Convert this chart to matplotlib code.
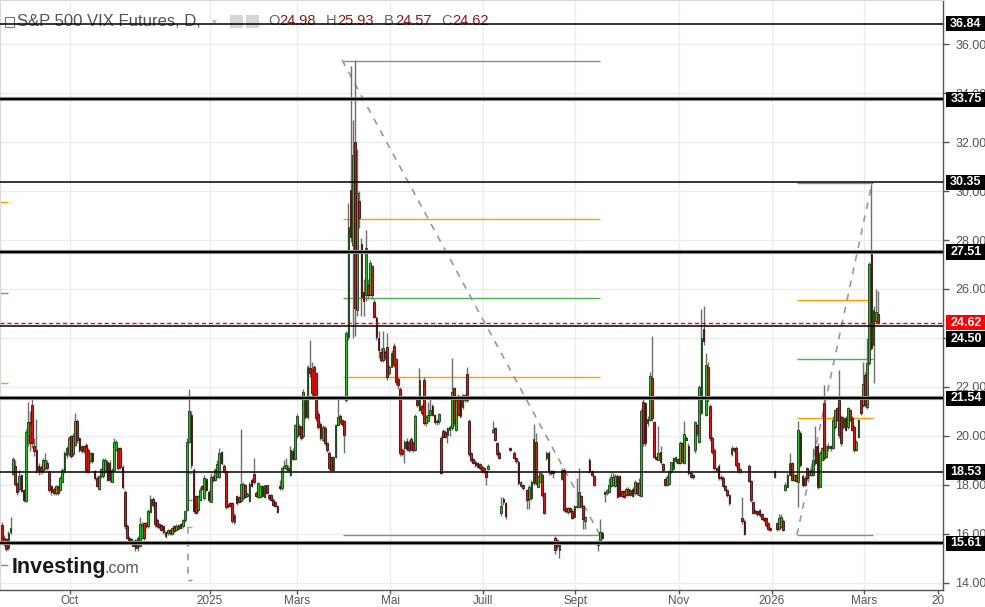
import numpy as np
import matplotlib
matplotlib.use("Agg")
import matplotlib.pyplot as plt
from matplotlib.patches import Rectangle
from matplotlib.transforms import blended_transform_factory

# ---------------- data: daily candles (open, high, low, close); None = empty slot
candles_sep_dec_2024 = [
    (16.35,16.5,15.6,15.65),(15.85,15.95,15.5,15.60),(15.79,15.85,15.3,15.39),(15.42,16.1,15.35,16.03),
    (16.06,16.7,16.0,16.24),(18.44,19.15,18.4,19.07),(18.78,19.0,17.95,18.05),(18.03,18.1,17.6,17.71),
    (17.84,18.62,17.75,18.35),(18.39,18.45,17.7,17.76),(17.80,17.85,17.3,17.39),(17.33,20.3,17.3,20.18),
    (20.0,21.4,19.6,20.56),(20.56,21.0,19.4,19.71),(21.27,21.65,19.5,19.71),(19.60,19.9,19.2,19.37),
    (19.43,20.7,18.5,18.62),(18.78,18.9,18.4,18.55),(18.75,18.8,18.45,18.55),(18.62,19.1,18.5,19.0),
    (18.69,19.3,18.6,19.03),(18.89,19.0,18.6,18.69),(18.52,18.6,17.7,17.80),(17.94,18.0,17.6,17.73),
    (17.84,17.9,17.6,17.69),(17.67,18.0,17.6,17.94),(17.91,18.0,17.6,17.67),(17.80,18.35,17.75,18.28),
    (18.14,18.7,18.1,18.62),(18.55,19.4,18.5,19.30),(19.23,19.6,19.1,19.50),(19.27,20.0,19.2,19.91),
    (19.98,20.05,19.1,19.19),(19.27,20.1,19.2,20.0),(19.64,20.93,19.6,20.63),(20.63,20.7,19.7,19.84),
    (19.91,19.95,19.35,19.43),(19.37,19.65,19.3,19.57),(19.57,19.6,19.3,19.37),(19.64,19.7,18.5,18.62),
    (19.43,19.5,18.5,18.55),(18.96,19.35,18.9,19.30),(19.30,19.35,18.9,18.96),(18.55,18.6,18.2,18.28),
    (18.28,18.35,17.9,17.94),(17.84,18.4,17.8,18.35),(18.35,18.7,18.3,18.65),(18.35,19.1,18.3,19.03),
    (18.55,19.1,18.5,19.03),(18.92,19.0,18.15,18.21),(18.89,19.0,18.1,18.21),(18.14,18.7,18.1,18.62),
    (18.62,19.9,18.55,19.77),(19.43,19.85,19.4,19.77),(19.50,19.55,18.6,18.69),(19.50,19.55,18.65,18.73),
    (18.73,18.8,17.85,17.91),(17.73,17.8,16.2,16.31),(16.31,16.4,15.8,15.83),(15.83,15.9,15.7,15.76),
    (15.79,15.85,15.65,15.72),(15.72,15.75,15.5,15.52),(15.76,15.8,15.3,15.42),(15.42,15.9,15.3,15.83),
    (15.52,16.7,15.45,16.40),(15.83,16.5,15.8,16.37),(16.44,16.5,15.75,15.83),(16.44,16.5,16.25,16.31),
    (16.31,17.0,16.25,16.92),(16.88,17.6,16.85,17.42),(17.42,17.5,17.1,17.19),(17.29,17.3,16.3,16.40),
    (16.58,16.65,16.25,16.31),(16.40,16.45,16.2,16.27),(16.37,16.4,16.1,16.17),(16.31,16.35,16.0,16.06),
    (16.06,16.1,15.85,15.92),(16.03,16.2,15.95,16.17),(16.17,16.2,15.95,16.03),(16.00,16.3,15.95,16.24),
    (16.31,16.35,16.05,16.10),(16.17,16.4,16.1,16.33),(16.21,16.4,16.15,16.37),(16.40,16.45,16.2,16.24),
    (16.31,16.6,16.25,16.58),(16.58,16.95,16.5,16.92),(16.99,19.9,16.95,19.77),(19.77,21.9,19.7,21.0),
]
candles_dec_2024_apr_2025 = [
    (20.86,21.0,18.7,18.82),(18.62,18.7,16.85,16.92),(17.53,17.6,16.8,16.85),(16.98,17.6,16.9,17.53),
    (17.39,17.9,17.35,17.80),(17.94,18.0,17.8,17.84),(17.46,18.4,17.4,18.28),(18.24,18.3,17.75,17.80),
    (17.73,17.8,17.3,17.39),(17.32,18.5,17.3,18.32),(18.32,18.4,18.1,18.21),(18.21,18.7,18.15,18.62),
    (18.34,19.0,18.3,18.86),(18.34,19.5,18.3,19.30),(19.34,19.4,18.8,18.89),(18.78,18.85,18.5,18.55),
    (18.52,18.6,17.0,17.08),(17.19,17.25,17.05,17.12),(17.26,17.3,17.1,17.15),(17.26,17.3,16.45,16.51),
    (16.47,16.85,16.4,16.78),(17.55,17.6,17.2,17.28),(17.49,17.55,17.25,17.30),(17.35,20.3,17.3,18.03),
    (17.46,18.1,17.4,18.02),(17.98,18.05,17.45,17.49),(17.55,17.7,17.5,17.60),(17.35,18.1,17.3,18.03),
    (18.21,18.3,17.9,17.94),(18.44,19.1,18.05,18.10),(17.69,17.75,17.5,17.55),(17.49,18.1,17.45,18.07),
    (17.49,18.0,17.45,17.94),(17.94,18.0,17.5,17.53),(17.49,18.0,17.45,17.98),(17.98,18.0,17.65,17.69),
    (17.60,17.65,17.4,17.46),(17.60,17.65,17.35,17.39),(17.39,17.45,17.15,17.19),(17.30,17.35,17.1,17.15),
    (17.15,17.2,16.85,16.88),(17.94,18.2,17.8,17.87),(17.87,18.75,17.8,18.71),(18.71,19.0,18.65,18.78),
    (18.68,19.1,18.6,18.82),(18.71,18.8,18.55,18.62),(18.41,19.6,18.35,19.43),(19.39,19.5,19.0,19.05),
    (19.05,20.5,19.0,20.45),(19.98,20.9,19.9,20.82),(20.41,20.5,20.0,20.09),(20.38,20.45,19.85,19.91),
    (19.98,21.9,19.9,21.81),(21.47,21.6,20.7,20.79),(20.79,22.9,20.7,22.80),(22.76,23.9,22.4,22.56),
    (22.70,23.0,21.6,21.74),(22.83,22.9,21.6,21.68),(22.56,22.6,20.6,20.72),(20.90,21.0,20.3,20.38),
    (20.49,20.55,19.85,19.91),(19.84,20.45,19.8,20.38),(20.34,20.4,19.65,19.70),(19.70,19.75,19.35,19.43),
    (19.32,19.4,18.6,18.68),(19.16,19.2,18.55,18.62),(18.62,19.2,18.55,19.16),(19.16,20.5,19.1,20.45),
    (20.45,21.5,20.4,20.79),(20.82,20.9,20.5,20.55),(20.66,20.7,20.4,20.49),(20.59,20.65,19.3,20.02),
]
candles_apr_2025_spike = [
    (21.47,24.3,21.4,24.19),(24.06,29.5,23.9,28.55),(30.04,35.1,27.9,28.14),(27.80,32.9,24.0,31.47),
    (32.02,35.35,24.1,25.21),(25.15,31.7,24.9,29.90),(29.59,30.0,28.5,28.91),(27.84,28.1,24.9,25.69),
    (25.89,26.4,24.9,25.49),(25.76,28.4,25.5,27.66),(26.17,26.4,25.6,25.76),(25.76,27.2,25.7,27.05),
    (26.94,27.0,25.6,25.76),(25.45,25.6,24.8,24.87),(24.81,24.9,23.9,24.06),(23.99,24.3,23.2,23.51),
]
candles_apr_aug_2025 = [
    (23.44,23.6,23.0,23.10),(23.10,24.3,23.0,23.58),(23.44,23.5,23.1,23.24),(23.65,24.2,22.3,22.39),
    (22.56,22.9,22.5,22.83),(22.83,23.5,22.8,23.37),(23.69,23.8,22.8,22.90),(23.14,23.2,22.1,22.22),
    (22.33,22.4,21.9,22.08),(21.90,22.0,19.2,19.29),(19.43,19.5,19.2,19.27),(19.50,19.85,18.9,19.77),
    (19.80,19.9,19.4,19.47),(19.77,19.85,19.35,19.43),(19.87,19.95,19.4,19.47),(19.70,19.8,19.35,19.43),
    (19.43,20.9,19.4,20.82),(21.47,21.6,21.2,21.27),(21.06,22.76,21.0,22.29),(21.22,21.3,20.85,20.93),
    (22.29,22.4,20.45,20.52),(20.52,20.85,20.4,20.79),(20.63,21.4,20.55,20.86),(20.86,21.6,20.8,21.06),
    (21.22,21.3,20.8,20.86),(20.86,20.9,20.5,20.55),(20.63,20.7,20.45,20.55),(20.59,20.95,20.5,20.88),
    (19.91,20.0,18.45,18.50),(20.20,20.3,19.9,19.97),(20.18,20.25,19.9,19.96),(20.04,20.35,19.7,20.31),
    (20.25,20.45,20.0,20.38),(20.31,23.2,20.25,21.81),(21.95,22.0,20.4,20.52),(20.25,21.55,20.2,21.47),
    (21.61,21.7,20.8,20.86),(21.54,21.6,20.75,20.82),(21.20,21.7,21.1,21.67),(21.47,21.7,21.4,21.67),
    (22.53,22.8,21.4,21.47),(20.61,20.7,19.2,19.27),(19.29,19.35,18.95,19.02),(19.05,19.1,18.85,18.91),
    (18.95,19.0,18.75,18.82),(18.89,18.95,18.7,18.75),(18.85,18.9,18.6,18.68),(18.75,18.8,18.5,18.59),
    (18.68,18.75,18.5,18.55),(18.57,18.6,18.0,18.34),(18.64,18.85,18.6,18.78),None,
    (20.15,20.6,20.1,20.25),(20.31,20.35,19.8,19.84),(19.70,19.75,19.2,19.27),(19.32,19.4,19.05,19.09),
    (16.85,17.5,16.75,17.12),(17.43,17.5,17.2,17.32),(17.25,17.3,16.6,16.74),None,
    (19.50,19.55,19.4,19.46),None,(19.32,19.4,19.05,19.12),(19.09,19.15,18.9,18.99),
    (18.93,19.0,18.0,18.07),(17.96,18.15,17.9,18.10),(18.0,18.05,17.8,17.87),None,
    (17.80,17.85,17.0,17.39),(17.42,18.0,17.0,17.93),(17.46,18.2,17.4,18.14),(18.07,20.5,18.0,19.88),
    (19.74,20.1,18.0,18.07),(17.93,18.4,17.9,18.34),(18.14,18.5,18.1,18.48),(18.41,18.5,17.5,17.59),
    (17.66,17.7,16.8,16.85),(19.09,19.4,19.0,19.29),(19.32,19.4,18.4,18.55),(18.55,18.6,18.4,18.48),
    (18.55,18.6,18.3,18.48),(15.82,15.9,15.2,15.35),
]
candles_aug_dec_2025 = [
    (15.76,15.8,15.4,15.49),(15.35,15.7,15.0,15.56),(18.24,18.7,18.2,18.62),(18.62,18.7,16.9,16.99),
    (17.05,17.1,16.85,16.92),(16.88,17.1,16.8,17.05),(17.05,17.1,16.85,16.92),(16.94,17.0,16.6,16.65),
    (16.69,17.2,16.65,17.12),(17.09,18.3,17.05,17.16),(17.09,18.7,17.05,17.71),(17.53,17.6,17.05,17.12),
    (17.16,17.2,16.2,16.60),(16.51,16.75,16.2,16.71),None,(19.03,19.1,18.5,18.55),
    (18.55,18.6,18.35,18.41),(18.37,18.4,17.95,18.01),None,(15.69,15.75,15.3,15.56),
    (15.76,16.6,15.7,16.06),(16.03,16.1,15.8,15.83),(17.71,17.75,17.3,17.67),(17.69,17.85,17.6,17.80),
    (17.73,18.3,17.7,18.01),(17.96,18.5,17.9,18.32),(18.01,18.5,17.95,18.32),(17.96,18.45,17.9,18.35),
    (18.37,18.45,17.45,17.50),(18.35,18.4,17.5,17.56),(17.77,17.8,17.5,17.56),(17.77,17.8,17.45,17.50),
    (17.60,17.9,17.55,17.83),(17.83,17.9,17.55,17.60),(17.60,17.85,17.55,17.80),(17.83,17.9,17.5,17.56),
    (17.67,18.2,17.6,18.10),(18.07,18.1,17.6,17.67),(17.60,18.3,17.55,18.07),(17.53,21.1,17.5,21.0),
    (21.40,21.5,19.6,19.70),(21.34,21.4,19.6,19.70),(20.52,20.8,20.4,20.68),(20.66,22.6,20.6,22.45),
    (22.36,24.1,20.6,20.72),(20.56,20.6,19.1,19.16),(19.16,19.2,19.0,19.05),(19.03,20.4,19.0,19.30),
    (19.36,19.6,18.85,18.92),(18.86,18.9,18.55,18.62),(18.23,18.3,17.95,18.0),(18.0,18.4,17.95,18.34),
    (18.04,18.6,18.0,18.57),(18.55,18.95,18.5,18.93),(18.64,19.15,18.6,19.09),(18.96,19.2,18.9,19.13),
    (19.05,19.1,18.85,18.91),(18.91,19.8,18.85,19.73),(19.70,19.75,18.9,18.96),(18.91,20.6,18.85,20.07),
    (19.91,20.0,19.8,19.84),(19.61,19.7,18.4,18.48),(18.48,18.55,18.3,18.34),(18.41,18.45,18.25,18.32),
    (19.43,20.6,19.3,20.55),(20.45,20.5,20.0,20.11),(19.77,22.1,19.7,22.0),(20.93,25.2,20.9,23.99),
    (24.36,25.3,23.7,23.89),(20.86,23.4,20.8,22.90),(22.83,23.0,21.4,21.54),(21.23,21.3,19.8,19.91),
    (19.91,20.0,19.25,19.33),(19.43,19.5,18.6,18.68),(18.68,18.75,18.55,18.64),(18.78,18.85,18.2,18.28),
    (18.34,18.4,18.2,18.28),(18.28,18.35,17.9,17.94),(17.96,18.0,17.75,17.80),(17.80,17.85,17.5,17.57),
    (17.60,17.65,17.2,17.26),(19.27,19.6,19.2,19.50),(19.50,19.55,19.35,19.43),(19.50,19.6,18.75,18.82),
    (18.89,18.95,18.5,18.55),(18.55,18.7,18.5,18.64),(16.64,17.5,16.4,16.51),(16.53,16.6,15.95,15.99),
    None,(18.78,18.85,18.1,18.18),(18.18,18.2,17.3,17.39),(17.30,17.35,16.8,16.85),
    (16.94,17.0,16.8,16.89),(16.92,16.95,16.75,16.82),(16.96,17.0,16.7,16.78),(16.82,16.85,16.55,16.61),
    (16.64,16.7,16.5,16.57),(16.64,16.7,16.3,16.37),(16.44,16.5,16.15,16.20),(16.24,16.3,16.1,16.17),
]
candles_jan_mar_2026 = [
    None,(18.34,18.6,18.3,18.51),(16.45,16.5,16.1,16.20),(16.20,16.8,16.15,16.67),
    (16.30,16.8,16.25,16.71),(16.53,16.6,16.1,16.17),(17.80,18.1,17.75,18.00),(17.93,18.5,17.9,18.41),
    (18.41,19.3,18.35,18.89),(18.89,18.95,18.15,18.21),(18.21,18.45,18.15,18.41),(18.41,18.45,18.1,18.18),
    (18.14,20.6,17.1,20.25),(20.11,20.2,18.75,18.82),(18.37,18.45,17.9,18.0),(18.28,18.35,17.95,18.0),
    (18.68,18.75,18.2,18.28),(18.41,18.6,18.35,18.55),(18.41,18.7,18.35,18.62),(18.41,19.5,18.35,19.02),
    (19.57,20.4,18.8,18.89),(19.57,19.7,17.85,17.93),(17.93,19.4,17.9,19.30),(19.02,19.55,19.0,19.50),
    (21.34,22.1,19.0,19.09),(19.16,19.65,19.1,19.57),(19.50,19.7,19.4,19.57),(19.57,19.65,19.4,19.50),
    (19.50,20.8,19.45,20.66),(20.38,21.1,20.3,21.06),(21.13,21.2,20.6,20.66),(21.47,22.7,19.9,20.04),
    (20.79,20.85,19.6,19.70),(20.38,20.8,20.3,20.72),(20.72,20.8,20.2,20.25),(20.38,21.2,20.3,21.13),
    (21.06,21.1,20.6,20.66),(20.72,20.8,20.2,20.25),(20.38,20.45,19.35,19.43),(19.43,19.85,19.4,19.77),
    (19.97,20.7,19.9,20.66),(21.54,21.6,20.85,20.93),(21.27,23.0,21.2,22.11),(22.49,22.6,21.2,21.27),
    (21.20,24.0,21.1,22.97),(22.97,27.1,22.9,27.01),(27.43,30.3,23.5,23.58),(23.72,25.3,22.16,25.15),
    (24.70,26.0,24.6,25.08),(24.98,25.93,24.57,24.62),
]

key_levels = [36.84, 33.75, 30.35, 27.51, 24.50, 21.54, 18.53, 15.61]
heavy_levels = [33.75, 27.51, 21.54, 15.61]
last_price = 24.62
last_ohlc = {"O": "24.98", "H": "25.93", "B": "24.57", "C": "24.62"}
month_labels = ["Oct", "2025", "Mars", "Mai", "Juill", "Sept", "Nov", "2026", "Mars", "20"]
y_ticks = [14, 16, 18, 20, 22, 24, 26, 28, 30, 32, 34, 36]
# fan drawings: (bottom, top)
fan_apr_sep = (15.96, 35.31)
fan_jan_mar = (15.96, 30.33)
fan_left = (14.73, 36.98)
fan_dec = (14.12, 20.66)

# ---------------- layout helpers
W, H = 985, 607
PX0, PXW = 2.0, 2.152          # pixel of bar 0, pixels per bar


def px2i(px):
    return (px - PX0) / PXW


rows = (candles_sep_dec_2024 + candles_dec_2024_apr_2025 + candles_apr_2025_spike
        + candles_apr_aug_2025 + candles_aug_dec_2025 + candles_jan_mar_2026)
N = len(rows)
idx = np.arange(N)
O = np.array([r[0] if r else np.nan for r in rows])
Hh = np.array([r[1] if r else np.nan for r in rows])
L = np.array([r[2] if r else np.nan for r in rows])
C = np.array([r[3] if r else np.nan for r in rows])
ok = ~np.isnan(O)

plt.rcParams["font.family"] = ["Liberation Sans", "DejaVu Sans"]
fig = plt.figure(figsize=(W / 100, H / 100), dpi=100)
ax = fig.add_axes([0, 17 / H, 943 / W, 590 / H])
ax.set_xlim(px2i(0), px2i(943))
ax.set_ylim(13.71, 37.80)

# grid
month_px = [70, 210, 297, 390, 483, 575, 679, 772, 864, 938]
month_pos = [px2i(p) for p in month_px]
for yv in y_ticks:
    ax.axhline(yv, color="#ededed", lw=1, zorder=0)
for xp in month_pos[:-1]:
    ax.axvline(xp, color="#ededed", lw=1, zorder=0)


# fan drawings
def fan(x0, x1, bottom, top, diag, lw=1.0):
    rng = top - bottom
    ax.hlines(top, x0, x1, color="#8c8c8c", lw=lw, zorder=2)
    ax.hlines(bottom, x0, x1, color="#8c8c8c", lw=lw, zorder=2)
    ax.hlines(bottom + rng * 2 / 3, x0, x1, color="#ff9900", lw=lw, zorder=2)
    ax.hlines(bottom + rng / 2, x0, x1, color="#4caf50", lw=lw, zorder=2)
    ax.hlines(bottom + rng / 3, x0, x1, color="#ff9900", lw=lw, zorder=2)
    if diag is not None:
        ax.plot([diag[0], diag[1]], [diag[2], diag[3]], color="#999999", lw=1.2,
                ls=(0, (4, 4)), zorder=2)


b, t = fan_apr_sep
fan(px2i(343), px2i(600), b, t, (px2i(342), px2i(602), 35.35, 15.8))
b, t = fan_jan_mar
fan(px2i(797), px2i(873), b, t, (px2i(797), px2i(872), 15.96, 30.33))
# left stubs of a fan that starts before the window
b, t = fan_left
r = t - b
for v, c in [(b + r * 2 / 3, "#ff9900"), (b + r / 2, "#4caf50"), (b + r / 3, "#ff9900"), (b, "#8c8c8c")]:
    ax.hlines(v, px2i(0), px2i(8), color=c, lw=1, zorder=2)
# small fan near Dec 2024
b, t = fan_dec
r = t - b
for v, c in [(b + r * 2 / 3, "#ff9900"), (b + r / 2, "#4caf50"), (b + r / 3, "#ff9900")]:
    ax.hlines(v, px2i(187), px2i(192), color=c, lw=1, zorder=2)
ax.plot([px2i(188), px2i(188)], [b + r / 3, b], color="#999999", lw=1.2, ls=(0, (4, 4)), zorder=2)
ax.hlines(b, px2i(188), px2i(192), color="#8c8c8c", lw=1, zorder=2)

# key levels
for v in key_levels:
    if v in heavy_levels:
        ax.axhline(v, color="#8a8a8a", lw=3.0, zorder=5)
        ax.axhline(v, color="#000000", lw=1.4, zorder=5)
    else:
        ax.axhline(v, color="#000000", lw=1.1, zorder=5)
ax.axhline(last_price, color="#ff0000", lw=1.0, ls=(0, (3, 2)), zorder=6)

# candles
ax.vlines(idx[ok], L[ok], Hh[ok], color="#6e6e6e", lw=1.0, zorder=3)
up = ok & (C >= O)
dn = ok & (C < O)
hgt = C - O
hgt = np.where(np.abs(hgt) < 0.06, np.where(hgt >= 0, 0.06, -0.06), hgt)
ax.bar(idx[up], hgt[up], bottom=O[up], width=0.8, color="#19c819",
       edgecolor="#123d12", linewidth=0.6, zorder=4)
ax.bar(idx[dn], hgt[dn], bottom=O[dn], width=0.8, color="#e81010",
       edgecolor="#3d0c0c", linewidth=0.6, zorder=4)

# axes styling
for s in ["left", "top"]:
    ax.spines[s].set_color("#d8d8d8")
for s in ["right", "bottom"]:
    ax.spines[s].set_color("#555555")
    ax.spines[s].set_linewidth(1.0)
ax.yaxis.tick_right()
ax.set_yticks(y_ticks)
ax.set_yticklabels([f"{v:.2f}" for v in y_ticks])
ax.tick_params(axis="y", direction="out", length=4, width=1, colors="#555555",
               labelsize=9, pad=5)
ax.set_xticks(month_pos)
ax.set_xticklabels(month_labels)
ax.tick_params(axis="x", direction="out", length=3, width=1, colors="#555555",
               labelsize=8.5, pad=0.5)

# right-hand price labels
bt = blended_transform_factory(fig.transFigure, ax.transData)
label_spots = [(36.84, 36.84, "black"), (33.75, 33.75, "black"), (30.35, 30.35, "black"),
               (27.51, 27.51, "black"), (24.62, 24.62, "#ff0000"), (24.50, 23.96, "black"),
               (21.54, 21.54, "black"), (18.53, 18.53, "black"), (15.61, 15.61, "black")]
for val, ypos, col in label_spots:
    fig.add_artist(Rectangle((946 / W, ypos - 0.31), 39 / W, 0.62, transform=bt,
                             facecolor=col, edgecolor="none", zorder=20))
    fig.text(966 / W, ypos, f"{val:.2f}", transform=bt, ha="center", va="center",
             color="white", fontsize=9, fontweight="bold", zorder=21)

# title line
ty = 1 - 21 / H
ax.add_patch(Rectangle((5 / W, 1 - 27 / H), 9 / W, 10 / H, transform=fig.transFigure,
                       facecolor="white", edgecolor="#777777", lw=0.8, zorder=1, clip_on=False))
ax.text(17 / W, ty, "S&P 500 VIX Futures, D,", transform=fig.transFigure, fontsize=12,
        color="#555555", va="center", ha="left", zorder=1)
ax.text(212 / W, ty, "\u25be", transform=fig.transFigure, fontsize=7, color="#bbbbbb",
        va="center", ha="left", zorder=1)
for xp in (230, 246):
    ax.add_patch(Rectangle((xp / W, 1 - 28 / H), 13 / W, 13 / H, transform=fig.transFigure,
                           facecolor="#d5d5d5", edgecolor="none", zorder=1, clip_on=False))
pieces = [("O", 268), ("H", 326), ("B", 384), ("C", 441)]
for key, xp in pieces:
    ax.text(xp / W, ty, key, transform=fig.transFigure, fontsize=10.5, color="#666666",
            va="center", ha="left", zorder=1)
    ax.text((xp + 11) / W, ty, last_ohlc[key], transform=fig.transFigure, fontsize=10.5,
            color="#8b1a1a", va="center", ha="left", zorder=1)

# watermark
ax.text(12 / W, 34 / H, "Investing", transform=fig.transFigure, fontsize=15.5,
        fontweight="bold", color="#1a1a1a", va="baseline", ha="left", zorder=7)
ax.text(104 / W, 34 / H, ".com", transform=fig.transFigure, fontsize=11.5,
        color="#555555", va="baseline", ha="left", zorder=7)

fig.savefig("out.png", dpi=100)
